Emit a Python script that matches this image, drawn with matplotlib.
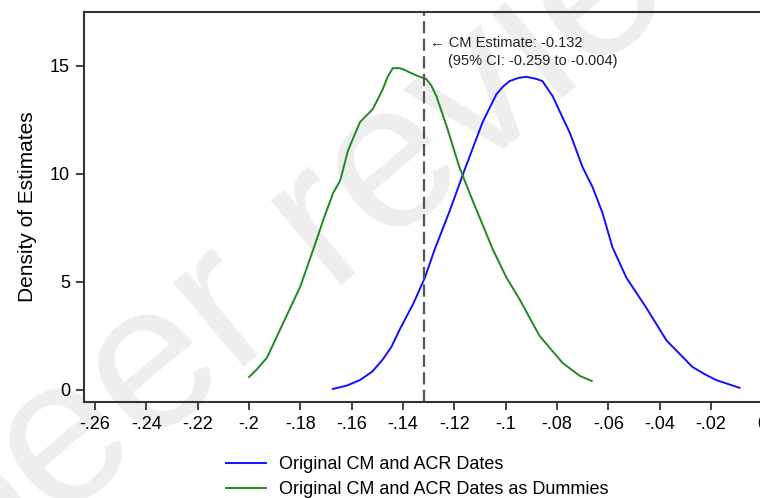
import matplotlib
matplotlib.use("Agg")
import matplotlib.pyplot as plt
import numpy as np

plt.rcParams["font.family"] = ["Liberation Sans", "DejaVu Sans"]

# density curves
blue_x = [-0.1673, -0.162, -0.1568, -0.152, -0.148, -0.1445, -0.1413, -0.136,
          -0.1315, -0.1277, -0.1218, -0.116, -0.109, -0.1036, -0.101, -0.0985,
          -0.095, -0.0919, -0.088, -0.0857, -0.0817, -0.0778, -0.075, -0.070,
          -0.0662, -0.0623, -0.0584, -0.053, -0.0452, -0.0374, -0.0273, -0.022,
          -0.018, -0.0089]
blue_y = [0.05, 0.2, 0.46, 0.85, 1.4, 2.0, 2.8, 4.0,
          5.2, 6.5, 8.3, 10.2, 12.4, 13.7, 14.05, 14.3,
          14.45, 14.5, 14.4, 14.3, 13.6, 12.6, 11.9, 10.3,
          9.4, 8.2, 6.6, 5.2, 3.8, 2.3, 1.07, 0.7,
          0.46, 0.1]

green_x = [-0.200, -0.197, -0.193, -0.1867, -0.180, -0.175, -0.171, -0.1673,
           -0.1645, -0.1614, -0.1568, -0.1518, -0.148, -0.146, -0.144, -0.1413,
           -0.139, -0.1374, -0.1335, -0.131, -0.129, -0.127, -0.123, -0.118,
           -0.113, -0.105, -0.0997, -0.0946, -0.0868, -0.0778, -0.0711, -0.0665]
green_y = [0.6, 0.95, 1.5, 3.1, 4.8, 6.5, 7.9, 9.1,
           9.7, 11.1, 12.4, 13.0, 13.9, 14.5, 14.9, 14.9,
           14.8, 14.7, 14.5, 14.4, 14.1, 13.6, 12.2, 10.3,
           8.8, 6.5, 5.2, 4.2, 2.5, 1.25, 0.65, 0.42]

cm_estimate = -0.132
xticks = [-0.26, -0.24, -0.22, -0.2, -0.18, -0.16, -0.14, -0.12, -0.1,
          -0.08, -0.06, -0.04, -0.02, 0]
xticklabels = ["-.26", "-.24", "-.22", "-.2", "-.18", "-.16", "-.14", "-.12",
               "-.1", "-.08", "-.06", "-.04", "-.02", "0"]
yticks = [0, 5, 10, 15]
labels = ["Original CM and ACR Dates", "Original CM and ACR Dates as Dummies"]

fig = plt.figure(figsize=(7.6, 4.98), dpi=100)

# watermark behind everything
fig.text(345 / 760, 1 - 212 / 498, "peer review", fontsize=150,
         color="#eeeeee", rotation=40, rotation_mode="anchor",
         ha="center", va="center", zorder=-5)

ax = fig.add_axes([84 / 760, 96 / 498, 0.9129, 390 / 498])
ax.patch.set_alpha(0)

ax.plot(blue_x, blue_y, color="#1010ff", lw=1.4, label=labels[0])
ax.plot(green_x, green_y, color="#1f8a1f", lw=1.4, label=labels[1])
ax.axvline(cm_estimate, color="#555555", lw=1.6, dashes=(5.5, 2.4))

ax.text(-0.1296, 16.06, "\u2190 CM Estimate: -0.132", fontsize=10.5,
        color="#222222", va="center", ha="left")
ax.text(-0.1226, 15.23, "(95% CI: -0.259 to -0.004)", fontsize=10.5,
        color="#222222", va="center", ha="left")

ax.set_xlim(-0.2643, 0.006)
ax.set_ylim(-0.556, 17.5)
ax.set_xticks(xticks)
ax.set_xticklabels(xticklabels)
ax.set_yticks(yticks)
ax.tick_params(axis="both", labelsize=13, length=6, width=1.3,
               color="#333333", direction="out", pad=4)
ax.set_ylabel("Density of Estimates", fontsize=15, labelpad=9)
for s in ["left", "bottom", "top", "right"]:
    ax.spines[s].set_color("#333333")
    ax.spines[s].set_linewidth(1.5)

fig.legend(loc="upper left", bbox_to_anchor=(219 / 760, 1 - 449 / 498),
           frameon=False, fontsize=13, handlelength=2.2, handletextpad=0.75,
           labelspacing=0.45, borderaxespad=0)

fig.savefig("out.png", dpi=100)
